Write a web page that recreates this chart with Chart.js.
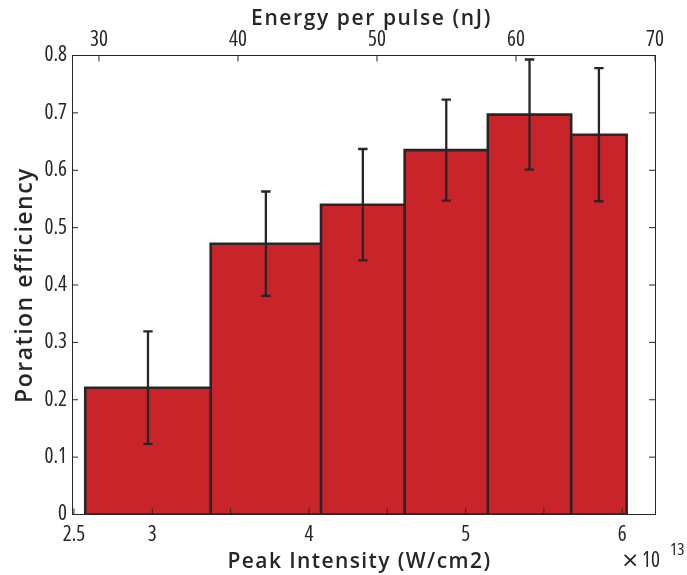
<!DOCTYPE html>
<html>
<head>
<meta charset="utf-8">
<script src="https://cdn.jsdelivr.net/npm/chart.js@4/dist/chart.umd.min.js"></script>
<style>
  html, body { margin: 0; padding: 0; background: #fff; }
  canvas { display: block; }
</style>
</head>
<body>
<canvas id="chart" width="687" height="575"></canvas>
<script>
// bin edges on the intensity axis (x 10^13 W/cm2)
const binEdges = [2.572, 3.373, 4.077, 4.611, 5.142, 5.674, 6.028];
// poration efficiency per bin and its error
const efficiency = [0.221, 0.472, 0.540, 0.635, 0.697, 0.662];
const efficiencyErr = [0.098, 0.091, 0.097, 0.088, 0.096, 0.116];

// axis ticks
const intensityTicks = [2.5, 3, 3.5, 4, 4.5, 5, 5.5, 6];
const intensityLabels = [2.5, 3, 4, 5, 6];
const intensityRange = [2.4875, 6.209];
const energyTicks = [30, 40, 50, 60, 70];
const energyRange = [28.06, 70];
const effTicks = [0, 0.1, 0.2, 0.3, 0.4, 0.5, 0.6, 0.7, 0.8];

const INK = '#262626';
const FAMILY = "'Open Sans', 'Noto Sans', sans-serif";
// weight slot carries the stretch keyword -> condensed face of Open Sans
const tickFont = { family: FAMILY, size: 21, weight: 'condensed' };

// histogram outline: up and down at each edge so the dividers reach the base
const histPoints = [];
for (let i = 0; i < efficiency.length; i++) {
  histPoints.push({ x: binEdges[i], y: 0 });
  histPoints.push({ x: binEdges[i], y: efficiency[i] });
  histPoints.push({ x: binEdges[i + 1], y: efficiency[i] });
  histPoints.push({ x: binEdges[i + 1], y: 0 });
}

// error bars at bin centres, broken apart with null points
const errPoints = [];
for (let i = 0; i < efficiency.length; i++) {
  const c = (binEdges[i] + binEdges[i + 1]) / 2;
  errPoints.push({ x: c, y: efficiency[i] - efficiencyErr[i] });
  errPoints.push({ x: c, y: efficiency[i] + efficiencyErr[i] });
  errPoints.push({ x: c, y: null });
}

const basePoints = [
  { x: binEdges[0], y: 0 },
  { x: binEdges[binEdges.length - 1], y: 0 }
];

const setTicks = (list) => (scale) => { scale.ticks = list.map(v => ({ value: v })); };

// inward tick marks (MATLAB style), axis titles and the exponent note
const decorations = {
  id: 'decorations',
  afterDatasetsDraw(chart) {
    const { ctx, chartArea: a, scales } = chart;
    const len = 6;
    ctx.save();
    ctx.strokeStyle = INK;
    ctx.lineWidth = 1;
    ctx.beginPath();
    scales.x.ticks.forEach(t => {
      const px = scales.x.getPixelForValue(t.value);
      ctx.moveTo(px, a.bottom); ctx.lineTo(px, a.bottom - len);
    });
    scales.xTop.ticks.forEach(t => {
      const px = scales.xTop.getPixelForValue(t.value);
      ctx.moveTo(px, a.top); ctx.lineTo(px, a.top + len);
    });
    scales.y.ticks.forEach(t => {
      const py = scales.y.getPixelForValue(t.value);
      ctx.moveTo(a.left, py); ctx.lineTo(a.left + len, py);
    });
    scales.yRight.ticks.forEach(t => {
      const py = scales.yRight.getPixelForValue(t.value);
      ctx.moveTo(a.right, py); ctx.lineTo(a.right - len, py);
    });
    ctx.stroke();
    ctx.restore();
  },
  afterDraw(chart) {
    const { ctx, chartArea: a } = chart;
    const midX = (a.left + a.right) / 2;
    const midY = (a.top + a.bottom) / 2;
    ctx.save();
    ctx.fillStyle = INK;
    ctx.textBaseline = 'alphabetic';
    ctx.textAlign = 'center';

    ctx.font = "600 21px " + FAMILY;
    ctx.letterSpacing = '1.6px';
    ctx.fillText('Energy per pulse (nJ)', midX + 8, 25);

    ctx.letterSpacing = '1.4px';
    ctx.fillText('Peak Intensity (W/cm2)', midX - 4, 568);

    ctx.save();
    ctx.font = "600 23px " + FAMILY;
    ctx.letterSpacing = '1.5px';
    ctx.translate(32, midY);
    ctx.rotate(-Math.PI / 2);
    ctx.fillText('Poration efficiency', 0, 0);
    ctx.restore();

    ctx.letterSpacing = '0px';
    ctx.textAlign = 'left';
    ctx.font = "22px 'DejaVu Sans', sans-serif";
    ctx.fillText('\u00d7', 621, 567);
    ctx.font = "normal condensed 21px " + FAMILY;
    ctx.fillText('10', 642, 567);
    ctx.font = "normal condensed 17px " + FAMILY;
    ctx.fillText('13', 670, 555);
    ctx.restore();
  }
};

const ctx = document.getElementById('chart').getContext('2d');
new Chart(ctx, {
  type: 'line',
  data: {
    datasets: [
      {
        label: 'Poration efficiency',
        data: histPoints,
        fill: 'origin',
        backgroundColor: '#CA242B',
        borderColor: INK,
        borderWidth: 2.6,
        borderJoinStyle: 'miter',
        pointRadius: 0,
        tension: 0,
        order: 3
      },
      {
        label: 'base',
        data: basePoints,
        fill: false,
        borderColor: INK,
        borderWidth: 2.6,
        pointRadius: 0,
        order: 2
      },
      {
        label: 'error',
        data: errPoints,
        fill: false,
        spanGaps: false,
        borderColor: INK,
        borderWidth: 2.3,
        pointStyle: 'line',
        pointRadius: 4.7,
        pointBorderWidth: 2.3,
        pointBorderColor: INK,
        pointHoverRadius: 4.7,
        order: 1
      }
    ]
  },
  options: {
    responsive: false,
    animation: false,
    events: [],
    layout: { padding: 0 },
    plugins: {
      legend: { display: false },
      tooltip: { enabled: false }
    },
    scales: {
      x: {
        type: 'linear',
        position: 'bottom',
        min: intensityRange[0],
        max: intensityRange[1],
        afterBuildTicks: setTicks(intensityTicks),
        afterFit: (s) => { s.height = 60.5; },
        grid: { display: false, drawTicks: false },
        border: { display: true, color: INK, width: 1 },
        ticks: {
          autoSkip: false,
          maxRotation: 0,
          padding: 8,
          color: INK,
          font: tickFont,
          callback: (v) => intensityLabels.includes(v) ? String(v) : ''
        }
      },
      xTop: {
        type: 'linear',
        position: 'top',
        min: energyRange[0],
        max: energyRange[1],
        afterBuildTicks: setTicks(energyTicks),
        afterFit: (s) => { s.height = 55.5; },
        grid: { display: false, drawTicks: false },
        border: { display: true, color: INK, width: 1 },
        ticks: {
          autoSkip: false,
          maxRotation: 0,
          padding: 3,
          color: INK,
          font: tickFont
        }
      },
      y: {
        type: 'linear',
        position: 'left',
        min: 0,
        max: 0.8,
        afterBuildTicks: setTicks(effTicks),
        afterFit: (s) => { s.width = 72; },
        grid: { display: false, drawTicks: false },
        border: { display: true, color: INK, width: 1 },
        ticks: {
          autoSkip: false,
          padding: 5,
          color: INK,
          font: tickFont
        }
      },
      yRight: {
        type: 'linear',
        position: 'right',
        min: 0,
        max: 0.8,
        afterBuildTicks: setTicks(effTicks),
        afterFit: (s) => { s.width = 32; },
        grid: { display: false, drawTicks: false },
        border: { display: true, color: INK, width: 1 },
        ticks: { display: false }
      }
    }
  },
  plugins: [decorations]
});
</script>
</body>
</html>
